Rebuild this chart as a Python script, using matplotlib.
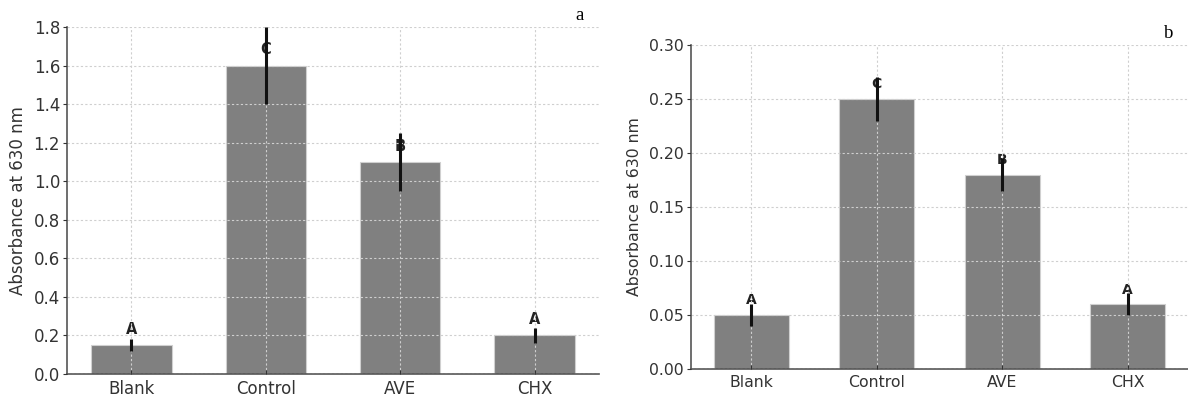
import matplotlib
matplotlib.use("Agg")
import matplotlib.pyplot as plt
import numpy as np

categories = ["Blank", "Control", "AVE", "CHX"]
values_a = [0.15, 1.60, 1.10, 0.20]
errors_a = [0.03, 0.20, 0.15, 0.04]
letters_a = ["A", "C", "B", "A"]
values_b = [0.05, 0.25, 0.18, 0.06]
errors_b = [0.01, 0.02, 0.015, 0.01]
letters_b = ["A", "C", "B", "A"]

plt.rcParams['font.family'] = ['DejaVu Sans']

fig = plt.figure(figsize=(11.88, 3.96), dpi=100)

def panel(rect, values, errors, letters, ylim, yticks, fmt, tag, tagpos, fs, lfs):
    ax = fig.add_axes(rect)
    x = np.arange(len(categories))
    ax.bar(x, values, width=0.6, color="#808080", edgecolor="#d0d0d0", linewidth=0.8, zorder=1)
    ax.errorbar(x, values, yerr=errors, fmt="none", ecolor="#111111", elinewidth=2.2, capsize=0, zorder=3)
    off = 0.045 * ylim[1]
    for xi, v, l in zip(x, values, letters):
        ax.text(xi, v + off, l, ha="center", va="center", fontsize=lfs, fontweight="bold", color="#222222", zorder=2)
    ax.set_ylim(*ylim)
    ax.set_yticks(yticks)
    ax.set_yticklabels([fmt.format(t) for t in yticks])
    ax.set_xticks(x)
    ax.set_xticklabels(categories)
    ax.set_ylabel("Absorbance at 630 nm", fontsize=fs, color="#333333", labelpad=5)
    ax.grid(True, linestyle=(0, (2, 2)), color="#cfcfcf", linewidth=0.8)
    ax.set_axisbelow(False)
    for s in ["top", "right"]:
        ax.spines[s].set_visible(False)
    for s in ["left", "bottom"]:
        ax.spines[s].set_color("#555555")
        ax.spines[s].set_linewidth(1.2)
    ax.tick_params(axis="y", direction="out", length=3, labelsize=fs, colors="#333333", labelcolor="#333333", pad=2)
    ax.tick_params(axis="x", direction="in", length=3, labelsize=fs, colors="#333333", labelcolor="#333333", pad=4)
    fig.text(tagpos[0], tagpos[1], tag, fontsize=13.5, family="Liberation Serif", ha="center", va="center")
    return ax

panel([67/1188, 1 - 374/396, (599 - 67)/1188, (374 - 27)/396], values_a, errors_a, letters_a,
      (0, 1.8), [0.0, 0.2, 0.4, 0.6, 0.8, 1.0, 1.2, 1.4, 1.6, 1.8], "{:.1f}", "a", (580/1188, 1 - 16/396), 12, 10.5)
panel([691/1188, 1 - 369/396, (1188 - 691)/1188, (369 - 45)/396], values_b, errors_b, letters_b,
      (0, 0.30), [0.00, 0.05, 0.10, 0.15, 0.20, 0.25, 0.30], "{:.2f}", "b", (1169/1188, 1 - 33/396), 11.3, 10)

fig.savefig("out.png", dpi=100)
